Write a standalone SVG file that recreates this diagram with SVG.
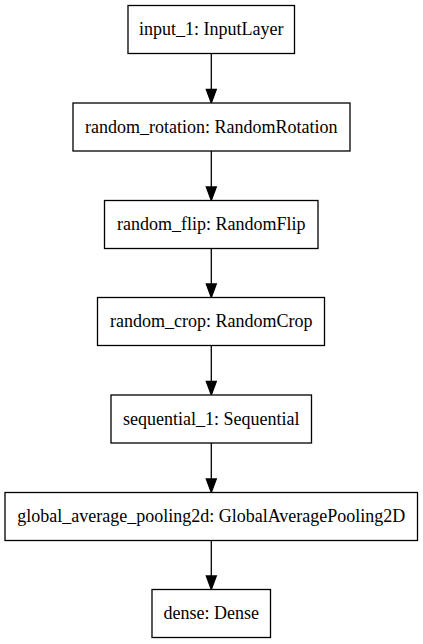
<svg xmlns="http://www.w3.org/2000/svg" width="423" height="644" viewBox="0 0 423 644">
<style>
.node rect{fill:#fff;stroke:#000;stroke-width:1.3}
.node text{font-family:"Liberation Serif","Times New Roman",serif;font-size:18px;fill:#000;text-anchor:middle}
.edge line{stroke:#000;stroke-width:1.3}
.edge polygon{fill:#000;stroke:#000;stroke-width:1.3}
</style>
<rect width="423" height="644" fill="#fff"/>
<g id="connectors">
<g class="edge"><line x1="211.3" y1="53.5" x2="211.3" y2="89.5"/><polygon points="206.3,89.5 216.3,89.5 211.3,103"/></g>
<g class="edge"><line x1="211.3" y1="151" x2="211.3" y2="187"/><polygon points="206.3,187 216.3,187 211.3,200.5"/></g>
<g class="edge"><line x1="211.3" y1="248.5" x2="211.3" y2="284"/><polygon points="206.3,284 216.3,284 211.3,297.5"/></g>
<g class="edge"><line x1="211.3" y1="345.5" x2="211.3" y2="381.5"/><polygon points="206.3,381.5 216.3,381.5 211.3,395"/></g>
<g class="edge"><line x1="211.3" y1="443" x2="211.3" y2="479"/><polygon points="206.3,479 216.3,479 211.3,492.5"/></g>
<g class="edge"><line x1="211.3" y1="540.5" x2="211.3" y2="576"/><polygon points="206.3,576 216.3,576 211.3,589.5"/></g>
</g>
<g id="input_1" class="node"><rect x="128" y="5.5" width="166.5" height="48"/><text x="211.3" y="35">input_1: InputLayer</text></g>
<g id="random_rotation" class="node"><rect x="73" y="103" width="277" height="48"/><text x="211.3" y="132.5">random_rotation: RandomRotation</text></g>
<g id="random_flip" class="node"><rect x="104.5" y="200.5" width="213.5" height="48"/><text x="211.3" y="230">random_flip: RandomFlip</text></g>
<g id="random_crop" class="node"><rect x="97.5" y="297.5" width="227" height="48"/><text x="211.3" y="327">random_crop: RandomCrop</text></g>
<g id="sequential_1" class="node"><rect x="111" y="395" width="200.5" height="48"/><text x="211.3" y="424.5">sequential_1: Sequential</text></g>
<g id="global_average_pooling2d" class="node"><rect x="5" y="492.5" width="412.5" height="48"/><text x="211.3" y="522">global_average_pooling2d: GlobalAveragePooling2D</text></g>
<g id="dense" class="node"><rect x="152" y="589.5" width="118.5" height="48"/><text x="211.3" y="619">dense: Dense</text></g>
</svg>
